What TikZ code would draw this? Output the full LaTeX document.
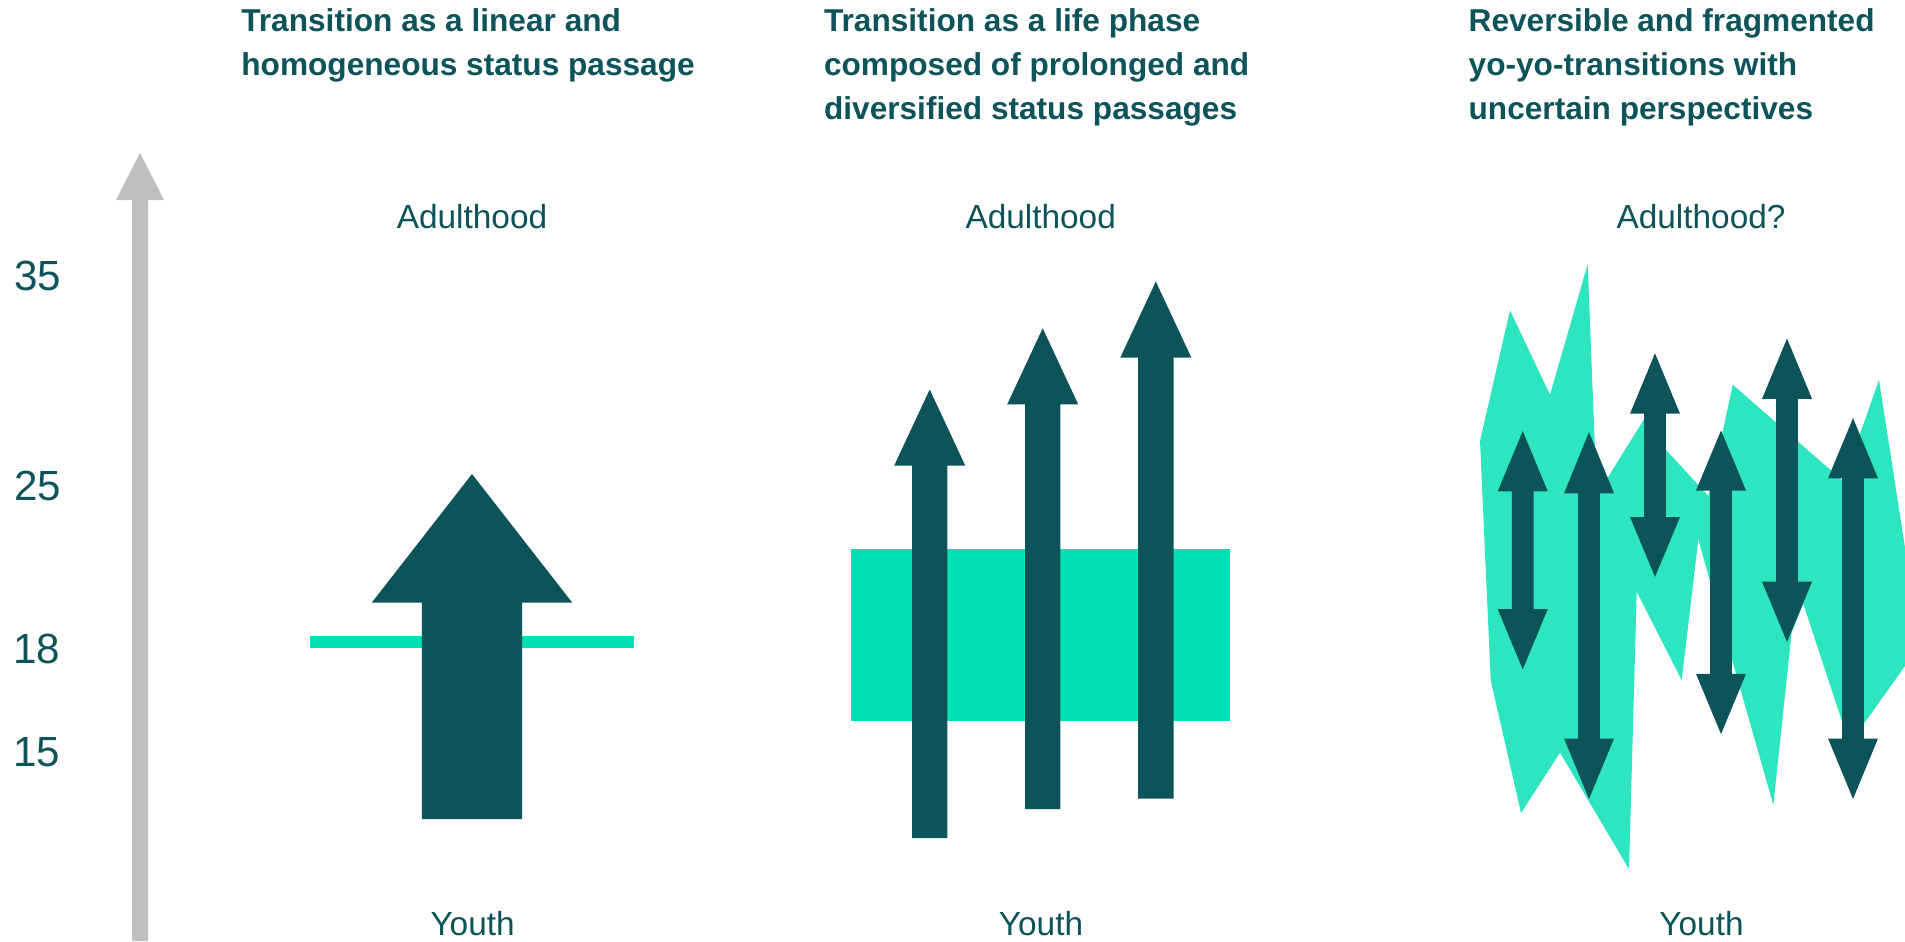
\documentclass[tikz,border=0pt]{standalone}
\usepackage{fontspec}
\setmainfont{Liberation Sans}
\definecolor{dark}{HTML}{0D535A}
\definecolor{mint}{HTML}{00E0B4}
\definecolor{mintlt}{HTML}{2DE6C0}
\definecolor{axisgray}{HTML}{BFBFBF}
% single up arrow: cx, tip y, head base y, bottom y, shaft half width, head half width
\newcommand{\arrowUp}[6]{\fill[dark] (#1,#2) -- ({#1+#6},#3) -- ({#1+#5},#3) -- ({#1+#5},#4) -- ({#1-#5},#4) -- ({#1-#5},#3) -- ({#1-#6},#3) -- cycle;}
% double arrow: cx, top tip, top base, bottom base, bottom tip, shaft half width, head half width
\newcommand{\arrowBoth}[7]{\fill[dark] (#1,#2) -- ({#1+#7},#3) -- ({#1+#6},#3) -- ({#1+#6},#4) -- ({#1+#7},#4) -- (#1,#5) -- ({#1-#7},#4) -- ({#1-#6},#4) -- ({#1-#6},#3) -- ({#1-#7},#3) -- cycle;}
\begin{document}
\begin{tikzpicture}[x=0.02cm,y=-0.02cm,
  headtext/.style={anchor=base west, align=left, inner sep=0pt, text=dark, font=\fontsize{18pt}{24.9pt}\selectfont\bfseries},
  stagetext/.style={anchor=base, inner sep=0pt, text=dark, font=\fontsize{19pt}{22pt}\selectfont},
  numtext/.style={anchor=base west, inner sep=0pt, text=dark, font=\fontsize{24pt}{28pt}\selectfont}]
\useasboundingbox (0,0) rectangle (1905,941);
\fill[white] (0,0) rectangle (1905,941);

% age axis
\fill[axisgray] (140,153) -- (164,200) -- (148,200) -- (148,941) -- (132,941) -- (132,200) -- (116,200) -- cycle;
\node[numtext] (n35) at (14,290) {35};
\node[numtext] (n25) at (14,500) {25};
\node[numtext] (n18) at (13,663) {18};
\node[numtext] (n15) at (13,766) {15};

% panel 1
\fill[mint] (310,635.7) rectangle (633.7,647.7);
\arrowUp{472}{474}{602.7}{819}{50.15}{100.3}

% panel 2
\fill[mint] (851,549) rectangle (1230,721);
\arrowUp{929.7}{389.5}{465.5}{838}{17.7}{35.5}
\arrowUp{1042.7}{328.3}{404.3}{809}{17.7}{35.5}
\arrowUp{1155.8}{281.5}{357.5}{798.5}{17.7}{35.5}

% panel 3
\begin{scope}
\clip (0,0) rectangle (1905,941);
\fill[mintlt] (1480,441) -- (1510,310.3) -- (1550,394.8) -- (1587.7,264.1) -- (1596.7,495.3) -- (1646.7,414.9) -- (1663.3,447) -- (1713.3,501.3) -- (1698.3,539.5) -- (1681.7,680.2) -- (1636.7,591.8) -- (1629,869.2) -- (1560,752.6) -- (1521,813) -- (1490.7,680.2) -- cycle;
\fill[mintlt] (1732.7,384.7) -- (1843.3,481.2) -- (1879,379.9) -- (1910,580) -- (1910,659) -- (1863.3,724.5) -- (1841.7,720.5) -- (1803.3,603.8) -- (1791.7,632) -- (1773.3,804.9) -- (1733.3,664.2) -- (1698.3,539.5) -- (1723.3,428.9) -- cycle;
\end{scope}
\arrowBoth{1522.7}{431}{491.3}{609.1}{669.4}{10.85}{25}
\arrowBoth{1589}{432.1}{493.3}{738.5}{798.9}{10.85}{25}
\arrowBoth{1655}{353.3}{413.7}{517}{576.9}{10.85}{25}
\arrowBoth{1721}{430.5}{490.5}{673.8}{734.1}{10.85}{25}
\arrowBoth{1787}{338.5}{398.8}{581.7}{642}{10.85}{25}
\arrowBoth{1853}{418.1}{478.4}{738.5}{798.9}{10.85}{25}

% titles (anchor at baseline of last line)
\node[headtext] (t1) at (241,75.5) {Transition as a linear and\\homogeneous status passage};
\node[headtext] (t2) at (823.7,119.3) {Transition as a life phase\\composed of prolonged and\\diversified status passages};
\node[headtext] (t3) at (1468.3,119.3) {Reversible and fragmented\\yo-yo-transitions with\\uncertain perspectives};

% stage labels
\node[stagetext] (a1) at (472,228.3) {Adulthood};
\node[stagetext] (a2) at (1040.7,228.3) {Adulthood};
\node[stagetext] (a3) at (1701,228.3) {Adulthood?};
\node[stagetext] (y1) at (472.6,935) {Youth};
\node[stagetext] (y2) at (1041,935) {Youth};
\node[stagetext] (y3) at (1701.5,935) {Youth};
\end{tikzpicture}
\end{document}
